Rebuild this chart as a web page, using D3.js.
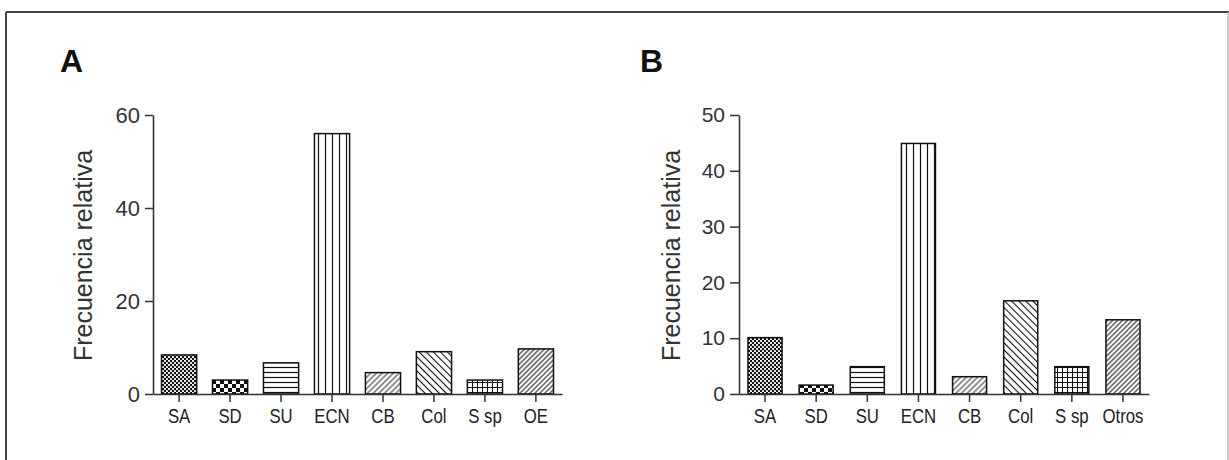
<!DOCTYPE html>
<html>
<head>
<meta charset="utf-8">
<script src="https://cdn.jsdelivr.net/npm/d3@7"></script>
<style>
  body { margin: 0; background: #fff; }
  svg { display: block; font-family: Arial, "Liberation Sans", sans-serif; }
</style>
</head>
<body>
<svg id="chart" width="1229" height="460"></svg>
<script>
// data
const catsA = ["SA", "SD", "SU", "ECN", "CB", "Col", "S sp", "OE"];
const valsA = [8.4, 3.0, 6.7, 56.0, 4.6, 9.1, 3.0, 9.7];
const ticksA = [0, 20, 40, 60];

const catsB = ["SA", "SD", "SU", "ECN", "CB", "Col", "S sp", "Otros"];
const valsB = [10.1, 1.6, 4.9, 44.9, 3.1, 16.7, 4.9, 13.3];
const ticksB = [0, 10, 20, 30, 40, 50];

const fills = ["dots", "checker", "hlines", "vlines", "diagR", "diagL", "grid", "diagDense"];

const svg = d3.select("#chart");
const defs = svg.append("defs");

// hatch patterns
function pat(id, w, h) {
    return defs.append("pattern").attr("id", id)
        .attr("patternUnits", "userSpaceOnUse")
        .attr("width", w).attr("height", h);
}
let p = pat("dots", 4, 4);
p.append("rect").attr("width", 4).attr("height", 4).attr("fill", "#111");
p.append("circle").attr("cx", 1).attr("cy", 1).attr("r", 1.1).attr("fill", "#fff");
p.append("circle").attr("cx", 3).attr("cy", 3).attr("r", 1.1).attr("fill", "#fff");

p = pat("checker", 8, 8);
p.append("rect").attr("width", 8).attr("height", 8).attr("fill", "#fff");
p.append("rect").attr("width", 4).attr("height", 4).attr("fill", "#111");
p.append("rect").attr("x", 4).attr("y", 4).attr("width", 4).attr("height", 4).attr("fill", "#111");

p = pat("hlines", 6, 5);
p.append("rect").attr("width", 6).attr("height", 5).attr("fill", "#fff");
p.append("line").attr("x1", 0).attr("x2", 6).attr("y1", 2.5).attr("y2", 2.5).attr("stroke", "#111").attr("stroke-width", 1.2);

p = pat("vlines", 7, 6);
p.append("rect").attr("width", 7).attr("height", 6).attr("fill", "#fff");
p.append("line").attr("y1", 0).attr("y2", 6).attr("x1", 3.5).attr("x2", 3.5).attr("stroke", "#111").attr("stroke-width", 1.2);

p = pat("diagR", 4, 4).attr("patternTransform", "rotate(45)");
p.append("rect").attr("width", 4).attr("height", 4).attr("fill", "#fff");
p.append("line").attr("y1", 0).attr("y2", 4).attr("x1", 2).attr("x2", 2).attr("stroke", "#222").attr("stroke-width", 1);

p = pat("diagL", 5, 5).attr("patternTransform", "rotate(-45)");
p.append("rect").attr("width", 5).attr("height", 5).attr("fill", "#fff");
p.append("line").attr("y1", 0).attr("y2", 5).attr("x1", 2.5).attr("x2", 2.5).attr("stroke", "#111").attr("stroke-width", 1.1);

p = pat("grid", 5, 5);
p.append("rect").attr("width", 5).attr("height", 5).attr("fill", "#fff");
p.append("line").attr("x1", 0).attr("x2", 5).attr("y1", 2.5).attr("y2", 2.5).attr("stroke", "#111").attr("stroke-width", 1);
p.append("line").attr("y1", 0).attr("y2", 5).attr("x1", 2.5).attr("x2", 2.5).attr("stroke", "#111").attr("stroke-width", 1);

p = pat("diagDense", 3.5, 3.5).attr("patternTransform", "rotate(45)");
p.append("rect").attr("width", 3.5).attr("height", 3.5).attr("fill", "#fff");
p.append("line").attr("y1", 0).attr("y2", 3.5).attr("x1", 1.75).attr("x2", 1.75).attr("stroke", "#222").attr("stroke-width", 1.1);

// frame
svg.append("line").attr("x1", 6).attr("x2", 1229).attr("y1", 12).attr("y2", 12)
    .attr("stroke", "#444").attr("stroke-width", 2);
svg.append("line").attr("x1", 6).attr("x2", 6).attr("y1", 12).attr("y2", 460)
    .attr("stroke", "#444").attr("stroke-width", 2);
svg.append("line").attr("x1", 1228).attr("x2", 1228).attr("y1", 12).attr("y2", 460)
    .attr("stroke", "#bbb").attr("stroke-width", 1.5);

function drawPanel(cfg, cats, vals, ticks) {
    const g = svg.append("g");
    const x = d3.scaleBand().domain(cats)
        .range([cfg.left, cfg.right])
        .paddingInner(cfg.padIn).paddingOuter(cfg.padOut);
    const y = d3.scaleLinear().domain([0, d3.max(ticks)]).range([cfg.bottom, cfg.top]);

    g.selectAll(".bar")
        .data(cats.map((c, i) => ({ c, v: vals[i], f: fills[i] })))
        .enter().append("rect")
        .attr("class", "bar")
        .attr("x", d => x(d.c))
        .attr("width", x.bandwidth())
        .attr("y", d => y(d.v))
        .attr("height", d => y(0) - y(d.v))
        .attr("fill", d => `url(#${d.f})`)
        .attr("stroke", "#111")
        .attr("stroke-width", 1.5);

    const ya = g.append("g")
        .attr("transform", `translate(${cfg.left},0)`)
        .call(d3.axisLeft(y).tickValues(ticks).tickSize(cfg.tick).tickSizeOuter(0).tickPadding(5));
    ya.select(".domain").attr("stroke", "#333").attr("stroke-width", 1.6);
    ya.selectAll(".tick line").attr("stroke", "#333").attr("stroke-width", 1.5);
    ya.selectAll(".tick text")
        .attr("font-size", cfg.tickFont).attr("fill", "#333").attr("font-family", null);

    const xa = g.append("g")
        .attr("transform", `translate(0,${cfg.bottom})`)
        .call(d3.axisBottom(x).tickSize(8).tickSizeOuter(0));
    xa.select(".domain").attr("stroke", "#333").attr("stroke-width", 1.6);
    xa.selectAll(".tick line").attr("stroke", "#333").attr("stroke-width", 1.5);
    xa.selectAll(".tick text")
        .attr("font-size", 20).attr("fill", "#222").attr("font-family", null)
        .attr("y", 29).attr("dy", 0)
        .attr("transform", "scale(0.84,1)");

    g.append("text")
        .attr("transform", `translate(${cfg.labelX},${(cfg.top + cfg.bottom) / 2 + 1}) rotate(-90)`)
        .attr("text-anchor", "middle")
        .attr("font-size", 25)
        .attr("fill", "#333")
        .text("Frecuencia relativa");

    g.append("text")
        .attr("x", cfg.letterX).attr("y", 72)
        .attr("font-size", 32).attr("font-weight", "bold").attr("fill", "#111")
        .text(cfg.letter);
}

drawPanel({ left: 153, right: 562, top: 115, bottom: 394, padIn: 0.31, padOut: 0.167,
            tick: 8, tickFont: 22, labelX: 92, letter: "A", letterX: 60 }, catsA, valsA, ticksA);
drawPanel({ left: 739, right: 1149, top: 115, bottom: 394, padIn: 0.334, padOut: 0.176,
            tick: 9, tickFont: 21, labelX: 680, letter: "B", letterX: 640 }, catsB, valsB, ticksB);
</script>
</body>
</html>
